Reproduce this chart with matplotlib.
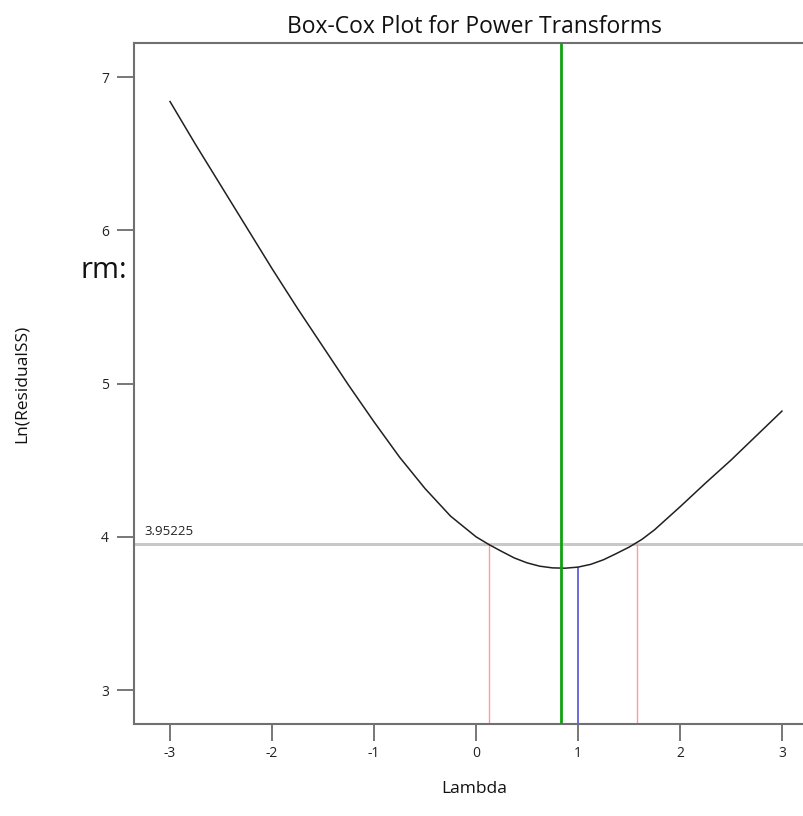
"""Box-Cox plot for power transforms (recreated)."""

import matplotlib

matplotlib.use("Agg")
import matplotlib.pyplot as plt

# Ln(ResidualSS) at each lambda
lambdas = [-3.0, -2.75, -2.5, -2.25, -2.0, -1.75, -1.5, -1.25, -1.0, -0.75, -0.5, -0.25,
           0.0, 0.125, 0.25, 0.375, 0.5, 0.625, 0.75, 0.875, 1.0, 1.125, 1.25, 1.375,
           1.5, 1.625, 1.75, 2.0, 2.25, 2.5, 2.75, 3.0]
ln_rss = [6.84, 6.56, 6.29, 6.02, 5.75, 5.49, 5.24, 4.99, 4.75, 4.52, 4.315, 4.135,
          4.0, 3.95, 3.905, 3.862, 3.83, 3.808, 3.797, 3.795, 3.802, 3.82, 3.85, 3.89,
          3.932, 3.982, 4.045, 4.195, 4.35, 4.50, 4.66, 4.82]

ci_level = 3.95225      # confidence threshold
best_lambda = 0.83      # green line
current_lambda = 1.0    # blue line
current_value = 3.802
ci_low, ci_high = 0.13, 1.575

x_ticks = [-3, -2, -1, 0, 1, 2, 3]
y_ticks = [3, 4, 5, 6, 7]

plt.rcParams["font.family"] = ["Open Sans", "DejaVu Sans"]
plt.rcParams["axes.unicode_minus"] = False

fig = plt.figure(figsize=(8.04, 8.16), dpi=100)
ax = fig.add_axes([0.1667, 0.1127, 0.8457, 0.8346])

ymin, ymax = 2.778, 7.222
ax.set_xlim(-3.353, 3.314)
ax.set_ylim(ymin, ymax)

ax.axhline(ci_level, color="#c8c8c8", lw=2.2, zorder=1)
ax.vlines([ci_low, ci_high], ymin, ci_level, color="#ff9aa2", lw=1.0, zorder=2)
ax.vlines(current_lambda, ymin, current_value, color="#6a6ae0", lw=1.4, zorder=2)
ax.plot(lambdas, ln_rss, color="#202020", lw=1.1, zorder=3)
ax.axvline(best_lambda, color="#10a010", lw=2.0, zorder=4)

ax.text(-3.25, ci_level + 0.04, "3.95225", fontsize=9.5, color="#222222",
        ha="left", va="bottom")

for side in ("left", "bottom", "top"):
    ax.spines[side].set_color("#707070")
    ax.spines[side].set_linewidth(1.5)
ax.spines["right"].set_visible(False)

ax.set_xticks(x_ticks)
ax.set_yticks(y_ticks)
ax.tick_params(direction="out", length=12, width=1.2, color="#606060",
               labelsize=10, labelcolor="#222222", pad=6)
ax.tick_params(axis="x", pad=4)

ax.set_title("Box-Cox Plot for Power Transforms", fontsize=16.5, pad=7, color="#111111")
ax.set_xlabel("Lambda", fontsize=12.5, labelpad=14, color="#111111")
fig.text(0.027, 0.53, "Ln(ResidualSS)", rotation=90, fontsize=12.5,
         ha="center", va="center", color="#111111")
fig.text(0.158, 0.668, "rm:", fontsize=21, ha="right", va="center", color="#111111")

fig.savefig("out.png", dpi=100)
